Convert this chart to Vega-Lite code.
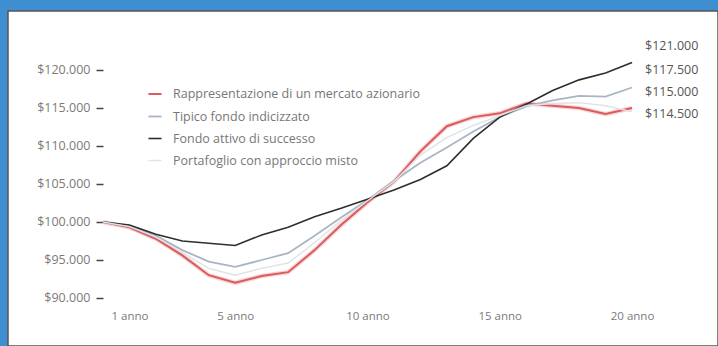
{
  "$schema": "https://vega.github.io/schema/vega-lite/v6.json",
  "width": 710,
  "height": 335,
  "autosize": {"type": "none"},
  "padding": {"left": 8, "top": 11, "right": 0, "bottom": 0},
  "background": "#3f8fd0",
  "view": {"fill": "white", "stroke": "#555555", "strokeWidth": 1.5},
  "config": {"font": "Open Sans"},
  "datasets": {
    "series": [
      {"year": 0, "series": "Rappresentazione di un mercato azionario", "value": 100000},
      {"year": 1, "series": "Rappresentazione di un mercato azionario", "value": 99300},
      {"year": 2, "series": "Rappresentazione di un mercato azionario", "value": 97800},
      {"year": 3, "series": "Rappresentazione di un mercato azionario", "value": 95600},
      {"year": 4, "series": "Rappresentazione di un mercato azionario", "value": 93000},
      {"year": 5, "series": "Rappresentazione di un mercato azionario", "value": 92000},
      {"year": 6, "series": "Rappresentazione di un mercato azionario", "value": 92900},
      {"year": 7, "series": "Rappresentazione di un mercato azionario", "value": 93400},
      {"year": 8, "series": "Rappresentazione di un mercato azionario", "value": 96300},
      {"year": 9, "series": "Rappresentazione di un mercato azionario", "value": 99600},
      {"year": 10, "series": "Rappresentazione di un mercato azionario", "value": 102600},
      {"year": 11, "series": "Rappresentazione di un mercato azionario", "value": 105300},
      {"year": 12, "series": "Rappresentazione di un mercato azionario", "value": 109300},
      {"year": 13, "series": "Rappresentazione di un mercato azionario", "value": 112600},
      {"year": 14, "series": "Rappresentazione di un mercato azionario", "value": 113800},
      {"year": 15, "series": "Rappresentazione di un mercato azionario", "value": 114300},
      {"year": 16, "series": "Rappresentazione di un mercato azionario", "value": 115600},
      {"year": 17, "series": "Rappresentazione di un mercato azionario", "value": 115300},
      {"year": 18, "series": "Rappresentazione di un mercato azionario", "value": 115000},
      {"year": 19, "series": "Rappresentazione di un mercato azionario", "value": 114200},
      {"year": 20, "series": "Rappresentazione di un mercato azionario", "value": 115000},
      {"year": 0, "series": "Tipico fondo indicizzato", "value": 100000},
      {"year": 1, "series": "Tipico fondo indicizzato", "value": 99500},
      {"year": 2, "series": "Tipico fondo indicizzato", "value": 98200},
      {"year": 3, "series": "Tipico fondo indicizzato", "value": 96300},
      {"year": 4, "series": "Tipico fondo indicizzato", "value": 94800},
      {"year": 5, "series": "Tipico fondo indicizzato", "value": 94100},
      {"year": 6, "series": "Tipico fondo indicizzato", "value": 95000},
      {"year": 7, "series": "Tipico fondo indicizzato", "value": 95900},
      {"year": 8, "series": "Tipico fondo indicizzato", "value": 98200},
      {"year": 9, "series": "Tipico fondo indicizzato", "value": 100600},
      {"year": 10, "series": "Tipico fondo indicizzato", "value": 102900},
      {"year": 11, "series": "Tipico fondo indicizzato", "value": 105400},
      {"year": 12, "series": "Tipico fondo indicizzato", "value": 107800},
      {"year": 13, "series": "Tipico fondo indicizzato", "value": 109800},
      {"year": 14, "series": "Tipico fondo indicizzato", "value": 111900},
      {"year": 15, "series": "Tipico fondo indicizzato", "value": 113800},
      {"year": 16, "series": "Tipico fondo indicizzato", "value": 115200},
      {"year": 17, "series": "Tipico fondo indicizzato", "value": 116000},
      {"year": 18, "series": "Tipico fondo indicizzato", "value": 116600},
      {"year": 19, "series": "Tipico fondo indicizzato", "value": 116500},
      {"year": 20, "series": "Tipico fondo indicizzato", "value": 117700},
      {"year": 0, "series": "Fondo attivo di successo", "value": 100000},
      {"year": 1, "series": "Fondo attivo di successo", "value": 99600},
      {"year": 2, "series": "Fondo attivo di successo", "value": 98400},
      {"year": 3, "series": "Fondo attivo di successo", "value": 97500},
      {"year": 4, "series": "Fondo attivo di successo", "value": 97200},
      {"year": 5, "series": "Fondo attivo di successo", "value": 96900},
      {"year": 6, "series": "Fondo attivo di successo", "value": 98300},
      {"year": 7, "series": "Fondo attivo di successo", "value": 99300},
      {"year": 8, "series": "Fondo attivo di successo", "value": 100700},
      {"year": 9, "series": "Fondo attivo di successo", "value": 101800},
      {"year": 10, "series": "Fondo attivo di successo", "value": 103000},
      {"year": 11, "series": "Fondo attivo di successo", "value": 104200},
      {"year": 12, "series": "Fondo attivo di successo", "value": 105600},
      {"year": 13, "series": "Fondo attivo di successo", "value": 107400},
      {"year": 14, "series": "Fondo attivo di successo", "value": 111000},
      {"year": 15, "series": "Fondo attivo di successo", "value": 113800},
      {"year": 16, "series": "Fondo attivo di successo", "value": 115500},
      {"year": 17, "series": "Fondo attivo di successo", "value": 117300},
      {"year": 18, "series": "Fondo attivo di successo", "value": 118700},
      {"year": 19, "series": "Fondo attivo di successo", "value": 119600},
      {"year": 20, "series": "Fondo attivo di successo", "value": 121000},
      {"year": 0, "series": "Portafoglio con approccio misto", "value": 100000},
      {"year": 1, "series": "Portafoglio con approccio misto", "value": 99400},
      {"year": 2, "series": "Portafoglio con approccio misto", "value": 98000},
      {"year": 3, "series": "Portafoglio con approccio misto", "value": 96000},
      {"year": 4, "series": "Portafoglio con approccio misto", "value": 93900},
      {"year": 5, "series": "Portafoglio con approccio misto", "value": 93000},
      {"year": 6, "series": "Portafoglio con approccio misto", "value": 93900},
      {"year": 7, "series": "Portafoglio con approccio misto", "value": 94600},
      {"year": 8, "series": "Portafoglio con approccio misto", "value": 97300},
      {"year": 9, "series": "Portafoglio con approccio misto", "value": 100200},
      {"year": 10, "series": "Portafoglio con approccio misto", "value": 102800},
      {"year": 11, "series": "Portafoglio con approccio misto", "value": 105300},
      {"year": 12, "series": "Portafoglio con approccio misto", "value": 108800},
      {"year": 13, "series": "Portafoglio con approccio misto", "value": 111100},
      {"year": 14, "series": "Portafoglio con approccio misto", "value": 112700},
      {"year": 15, "series": "Portafoglio con approccio misto", "value": 114000},
      {"year": 16, "series": "Portafoglio con approccio misto", "value": 115300},
      {"year": 17, "series": "Portafoglio con approccio misto", "value": 115600},
      {"year": 18, "series": "Portafoglio con approccio misto", "value": 115700},
      {"year": 19, "series": "Portafoglio con approccio misto", "value": 115300},
      {"year": 20, "series": "Portafoglio con approccio misto", "value": 114500}
    ],
    "ends": [
      {"year": 20, "label": "$121.000", "value": 121000, "order": 1},
      {"year": 20, "label": "$117.500", "value": 117500, "order": 2},
      {"year": 20, "label": "$115.000", "value": 115000, "order": 3},
      {"year": 20, "label": "$114.500", "value": 114500, "order": 4}
    ]
  },
  "data": {"name": "series"},
  "encoding": {
    "x": {
      "field": "year",
      "type": "quantitative",
      "scale": {"domain": [-3.59, 23.25], "nice": false, "zero": false},
      "axis": {
        "orient": "bottom",
        "offset": -48,
        "values": [1, 5, 10, 15, 20],
        "domain": false,
        "ticks": false,
        "grid": false,
        "title": null,
        "labelExpr": "datum.value + ' anno'",
        "labelPadding": 12,
        "labelColor": "#7a7a7a",
        "labelFontSize": 11.5,
        "labelFont": "Open Sans"
      }
    },
    "y": {
      "field": "value",
      "type": "quantitative",
      "scale": {"domain": [83684, 127763], "nice": false, "zero": false},
      "axis": {
        "orient": "left",
        "offset": -95,
        "values": [90000, 95000, 100000, 105000, 110000, 115000, 120000],
        "domain": false,
        "ticks": true,
        "tickSize": 7,
        "tickColor": "#444444",
        "tickWidth": 1.5,
        "grid": false,
        "title": null,
        "labelExpr": "'$' + replace(format(datum.value, ','), ',', '.')",
        "labelPadding": 6,
        "labelColor": "#7a7a7a",
        "labelFontSize": 12.5,
        "labelFont": "Open Sans"
      }
    }
  },
  "layer": [
    {
      "data": {"values": [{}]},
      "mark": {"type": "rule", "color": "#444444", "strokeWidth": 2},
      "encoding": {
        "x": {"datum": 0, "type": "quantitative"},
        "y": {"datum": 90000, "type": "quantitative"},
        "y2": {"datum": 120000}
      }
    },
    {
      "data": {"values": [{}]},
      "mark": {"type": "rule", "color": "#444444", "strokeWidth": 2},
      "encoding": {
        "x": {"datum": 0, "type": "quantitative"},
        "x2": {"datum": 20},
        "y": {"datum": 90000, "type": "quantitative"}
      }
    },
    {
      "transform": [{"filter": "datum.series === 'Rappresentazione di un mercato azionario'"}],
      "mark": {"type": "line", "color": "#f4c4c4", "strokeWidth": 4.5, "opacity": 0.7},
      "encoding": {}
    },
    {
      "mark": {"type": "line", "clip": false},
      "encoding": {
        "color": {
          "field": "series",
          "type": "nominal",
          "scale": {
            "domain": ["Rappresentazione di un mercato azionario", "Tipico fondo indicizzato", "Fondo attivo di successo", "Portafoglio con approccio misto"],
            "range": ["#dc5a5e", "#a9b5c3", "#2e2e2e", "#dfe2e7"]
          },
          "legend": {
            "orient": "none",
            "legendX": 139,
            "legendY": 75,
            "title": null,
            "symbolType": "stroke",
            "symbolSize": 170,
            "symbolStrokeWidth": 1.6,
            "labelFontSize": 12.5,
            "labelColor": "#777777",
            "labelFont": "Open Sans",
            "labelLimit": 500,
            "labelOffset": 10,
            "rowPadding": 8,
            "padding": 0
          }
        },
        "strokeWidth": {
          "field": "series",
          "type": "nominal",
          "scale": {
            "domain": ["Rappresentazione di un mercato azionario", "Tipico fondo indicizzato", "Fondo attivo di successo", "Portafoglio con approccio misto"],
            "range": [2, 1.4, 1.7, 1.2]
          },
          "legend": null
        }
      }
    },
    {
      "data": {"name": "ends"},
      "transform": [{"filter": "datum.order === 1"}],
      "mark": {"type": "text", "align": "left", "baseline": "middle", "dx": 13, "dy": -16, "fontSize": 12.5, "fill": "#555555"},
      "encoding": {"text": {"field": "label"}}
    },
    {
      "data": {"name": "ends"},
      "transform": [{"filter": "datum.order === 2"}],
      "mark": {"type": "text", "align": "left", "baseline": "middle", "dx": 13, "dy": -19, "fontSize": 12.5, "fill": "#555555"},
      "encoding": {"text": {"field": "label"}}
    },
    {
      "data": {"name": "ends"},
      "transform": [{"filter": "datum.order === 3"}],
      "mark": {"type": "text", "align": "left", "baseline": "middle", "dx": 13, "dy": -16, "fontSize": 12.5, "fill": "#555555"},
      "encoding": {"text": {"field": "label"}}
    },
    {
      "data": {"name": "ends"},
      "transform": [{"filter": "datum.order === 4"}],
      "mark": {"type": "text", "align": "left", "baseline": "middle", "dx": 13, "dy": 2, "fontSize": 12.5, "fill": "#555555"},
      "encoding": {"text": {"field": "label"}}
    }
  ]
}
